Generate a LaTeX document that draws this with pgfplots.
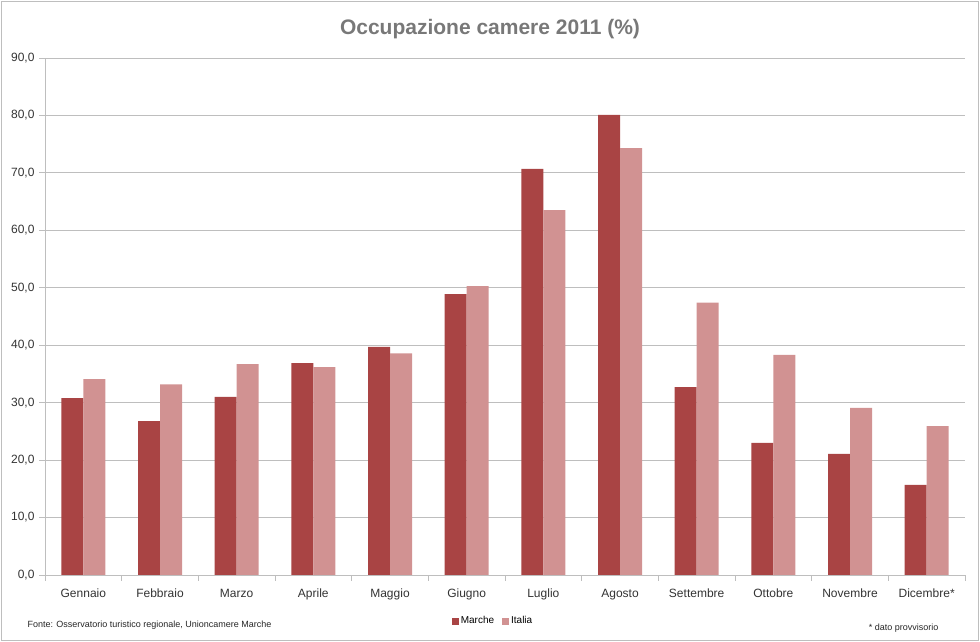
\documentclass[border=0pt]{standalone}
\usepackage{pgfplots}
\pgfplotsset{compat=1.18}
\usepackage{fontspec}
\setmainfont{Liberation Sans}
\definecolor{marche}{RGB}{169,68,68}
\definecolor{italia}{RGB}{209,146,146}
\definecolor{gridc}{RGB}{190,190,190}
\definecolor{titlec}{RGB}{120,120,120}
\begin{document}
\begin{tikzpicture}[x=1pt,y=1pt]
\draw[gridc,line width=1pt] (1.5,1.5) rectangle (978.5,640.5);
\begin{axis}[
  at={(45pt,67pt)}, anchor=south west,
  scale only axis, width=920pt, height=517pt,
  ybar=0pt, bar width=22pt,
  xmin=-0.5, xmax=11.5, ymin=0, ymax=90,
  xtick={0,...,11},
  xticklabels={Gennaio,Febbraio,Marzo,Aprile,Maggio,Giugno,Luglio,Agosto,Settembre,Ottobre,Novembre,Dicembre*},
  major x tick style={draw=none},
  extra x ticks={-0.5,0.5,...,11.5},
  extra x tick labels={},
  extra x tick style={major x tick style={draw=gridc,line width=0.8pt}, major tick length=6pt, grid=none},
  ytick={0,10,...,90},
  ymajorgrids, grid style={gridc,line width=0.8pt},
  y tick style={gridc,line width=0.8pt}, major tick length=6pt,
  tick align=outside,
  axis x line*=bottom, axis y line*=left,
  axis line style={gridc,line width=0.8pt},
  /pgf/number format/.cd, fixed, fixed zerofill, precision=1, use comma, assume math mode=true,
  /pgfplots/.cd,
  ticklabel style={font=\fontsize{12}{14}\selectfont, text=black!80},
  xticklabel style={anchor=north, yshift=-4pt, text height=9pt, text depth=3pt},
  yticklabel style={xshift=-1pt},
  legend style={at={(0.487,-0.089)}, anchor=center, draw=none, fill=none,
    font=\fontsize{10}{12}\selectfont, legend columns=2,
    /tikz/every even column/.append style={column sep=6pt}},
  legend image code/.code={\fill[#1] (0pt,-3.5pt) rectangle (7pt,3.5pt);},
  enlarge x limits=false, clip=false,
]
\addplot[fill=marche, draw=none] coordinates {(0,30.8) (1,26.8) (2,31.0) (3,36.9) (4,39.7) (5,48.9) (6,70.7) (7,80.1) (8,32.7) (9,23.0) (10,21.1) (11,15.7)};
\addplot[fill=italia, draw=none] coordinates {(0,34.1) (1,33.2) (2,36.7) (3,36.2) (4,38.6) (5,50.3) (6,63.5) (7,74.3) (8,47.4) (9,38.3) (10,29.1) (11,25.9)};
\legend{Marche,Italia}
\end{axis}
\node[font=\fontsize{21}{25}\selectfont\bfseries, text=titlec] at (490,613) {Occupazione camere 2011 (\%)};
\node[font=\fontsize{9}{11}\selectfont, anchor=west, text=black!85] at (24,17) {Fonte: Osservatorio turistico regionale, Unioncamere Marche};
\node[font=\fontsize{9}{11}\selectfont, anchor=east, text=black!85] at (942,14) {* dato provvisorio};
\pgfresetboundingbox
\path[use as bounding box] (0,0) rectangle (980,642);
\end{tikzpicture}
\end{document}
